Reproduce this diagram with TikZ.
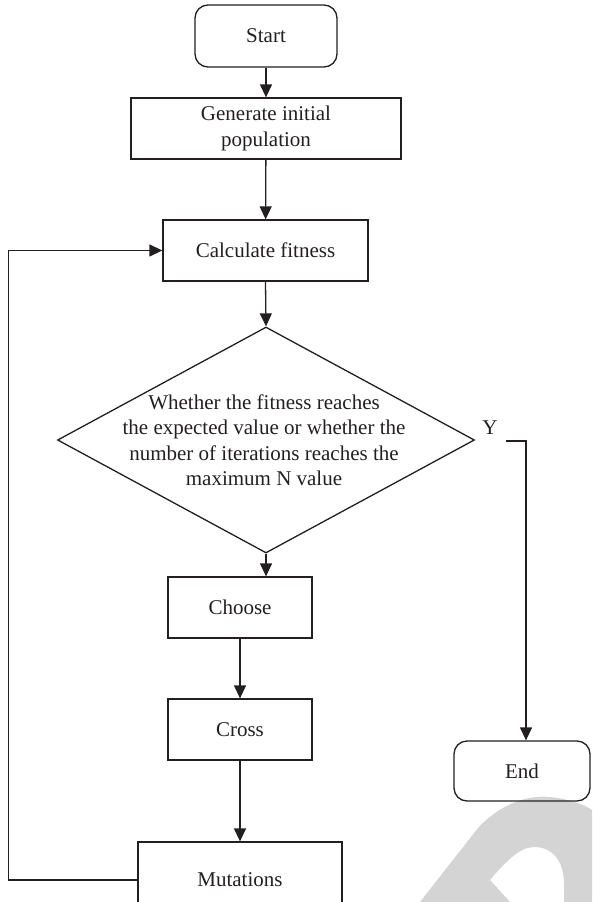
\documentclass[tikz,border=0pt]{standalone}
\usepackage{fontspec}
\setmainfont{Liberation Serif}
\usetikzlibrary{shapes.geometric,arrows.meta}
\definecolor{ink}{HTML}{231F20}
\definecolor{wmark}{HTML}{D4D4D4}
\begin{document}
\begin{tikzpicture}[x=1pt,y=-1pt,
  box/.style={draw=ink,line width=1.3pt,text=ink,align=center,inner sep=0pt,font=\fontsize{21}{25.5}\selectfont},
  term/.style={box,rounded corners=13pt},
  dec/.style={draw=ink,line width=1.3pt,diamond,aspect=1.845,inner sep=0pt,minimum width=417pt,minimum height=226pt},
  txt/.style={text=ink,align=center,inner sep=0pt,font=\fontsize{21}{25.5}\selectfont},
  arr/.style={draw=ink,line width=1.3pt,-{Triangle[length=13pt,width=12pt]}}]
\useasboundingbox (0,0) rectangle (592,902);
\clip (0,0) rectangle (592,902);

\fill[wmark] (420,902) -- (478,828) .. controls (502,802) and (530,795) .. (550,797)
  .. controls (570,799) and (585,805) .. (592,810) -- (592,902) -- (564,902) -- (564,885)
  .. controls (564,860) and (552,847) .. (534,847) .. controls (520,847) and (505,862) .. (490,880)
  -- (510,902) -- cycle;

\node[term,minimum width=142pt,minimum height=62pt] (S) at (266,36){Start};
\node[box,minimum width=270pt,minimum height=61pt] (G) at (266,128.5){Generate initial\\population};
\node[box,minimum width=205pt,minimum height=61pt] (C) at (265.5,250.5){Calculate fitness};
\node[dec] (D) at (266,440){};
\node[txt] (Dt) at (264,440){Whether the fitness reaches\\the expected value or whether the\\number of iterations reaches the\\maximum N value};
\node[txt] (Y) at (490,428){Y};
\node[box,minimum width=144pt,minimum height=61pt] (Ch) at (240,607.5){Choose};
\node[box,minimum width=144pt,minimum height=61pt] (Cr) at (240,729.5){Cross};
\node[box,minimum width=204pt,minimum height=76pt] (M) at (240,880){Mutations};
\node[term,minimum width=136pt,minimum height=60pt] (E) at (522,771){End};

\coordinate (y0) at (506,441);
\coordinate (y1) at (526,441);

\draw[arr](S)--(G);
\draw[arr](G)--(C);
\draw[arr](C.south)--(D.north);
\draw[arr](D.south)--(D.south |- Ch.north);
\draw[arr](Ch)--(Cr);
\draw[arr](Cr)--(M);
\draw[arr](M.west)--++(-129,0)|-(C.west);
\draw[arr](y0)--(y1)--(y1 |- E.north);

\end{tikzpicture}
\end{document}
